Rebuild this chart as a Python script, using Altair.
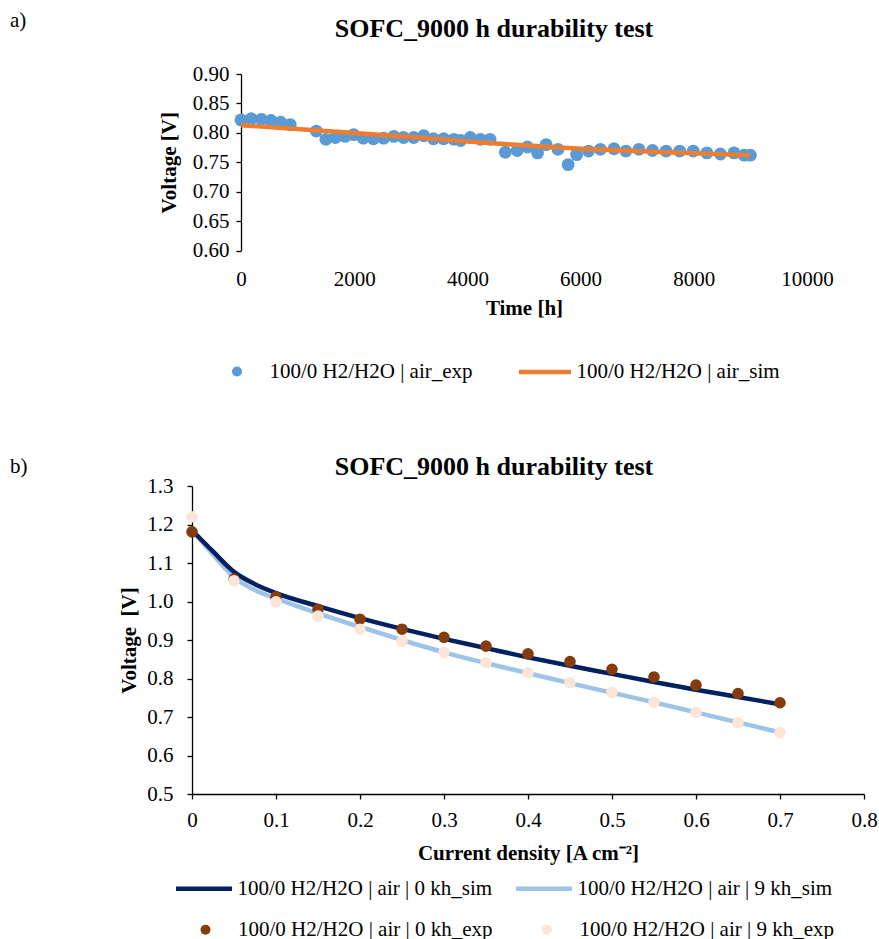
import altair as alt
import pandas as pd

FONT = "Liberation Serif"

# ---------------- a) durability test ----------------
time_exp = [0, 180, 360, 530, 700, 870, 1330, 1500, 1670, 1840, 1990, 2160, 2340, 2520,
            2700, 2870, 3050, 3230, 3400, 3580, 3760, 3880, 4050, 4230, 4400, 4670, 4880,
            5060, 5240, 5390, 5600, 5780, 5930, 6140, 6350, 6590, 6800, 7030, 7270, 7510,
            7750, 7990, 8230, 8470, 8710, 8890, 9000]
volt_exp = [0.822, 0.824, 0.823, 0.821, 0.818, 0.814, 0.803, 0.789, 0.792, 0.794, 0.797,
            0.791, 0.790, 0.791, 0.794, 0.792, 0.792, 0.795, 0.790, 0.790, 0.789, 0.787,
            0.792, 0.789, 0.789, 0.767, 0.770, 0.776, 0.766, 0.780, 0.772, 0.746, 0.763,
            0.769, 0.772, 0.773, 0.769, 0.772, 0.770, 0.769, 0.769, 0.769, 0.766, 0.764,
            0.766, 0.762, 0.762]
time_sim = [0, 1500, 3000, 4500, 6000, 7500, 9000]
volt_sim = [0.813, 0.803, 0.793, 0.782, 0.773, 0.767, 0.762]

# ---------------- b) polarisation curves ----------------
cd_exp = [0, 0.05, 0.1, 0.15, 0.2, 0.25, 0.3, 0.35, 0.4, 0.45, 0.5, 0.55, 0.6, 0.65, 0.7]
v0_exp = [1.181, 1.058, 1.012, 0.980, 0.954, 0.928, 0.907, 0.884, 0.864, 0.844, 0.824,
          0.804, 0.783, 0.761, 0.737]
v9_exp = [1.220, 1.054, 0.999, 0.962, 0.928, 0.897, 0.868, 0.841, 0.815, 0.789, 0.764,
          0.738, 0.712, 0.685, 0.660]
cd_sim = [0, 0.025, 0.05, 0.075, 0.1, 0.15, 0.2, 0.25, 0.3, 0.35, 0.4, 0.45, 0.5, 0.55,
          0.6, 0.65, 0.7]
v0_sim = [1.185, 1.130, 1.077, 1.045, 1.022, 0.988, 0.957, 0.929, 0.903, 0.879, 0.855,
          0.833, 0.812, 0.791, 0.771, 0.752, 0.733]
v9_sim = [1.185, 1.122, 1.063, 1.030, 1.008, 0.969, 0.934, 0.900, 0.868, 0.840, 0.814,
          0.788, 0.763, 0.738, 0.712, 0.686, 0.660]

TITLE = "SOFC_9000 h durability test"
A_EXP = "100/0 H2/H2O | air_exp"
A_SIM = "100/0 H2/H2O | air_sim"
S0 = "100/0 H2/H2O | air | 0 kh_sim"
S9 = "100/0 H2/H2O | air | 9 kh_sim"
E0 = "100/0 H2/H2O | air | 0 kh_exp"
E9 = "100/0 H2/H2O | air | 9 kh_exp"

df_a_exp = pd.DataFrame({"t": time_exp, "v": volt_exp, "s": A_EXP})
df_a_sim = pd.DataFrame({"t": time_sim, "v": volt_sim, "s": A_SIM})

# top panel: plot area starts 49 px right of the shared left edge
xa = alt.X("t:Q", scale=alt.Scale(domain=[0, 10000], nice=False, range=[49, 615]),
           axis=alt.Axis(values=[0, 2000, 4000, 6000, 8000, 10000], format="d",
                         title="Time [h]", domain=False, ticks=False, tickSize=0,
                         labelPadding=17.5, titlePadding=8))
ya = alt.Y("v:Q", scale=alt.Scale(domain=[0.6, 0.9], nice=False, zero=False),
           axis=alt.Axis(values=[0.6, 0.65, 0.7, 0.75, 0.8, 0.85, 0.9], format=".2f",
                         title="Voltage [V]", tickSize=5, labelPadding=7, titlePadding=13,
                         offset=-49))

pts_a = alt.Chart(df_a_exp).mark_point(filled=True, size=165, opacity=1).encode(
    x=xa, y=ya,
    color=alt.Color("s:N", scale=alt.Scale(domain=[A_EXP], range=["#5B9BD5"]),
                    legend=alt.Legend(title=None, orient="none", legendX=34.5, legendY=287,
                                      symbolSize=100, labelOffset=22, symbolOpacity=1)))
line_a = alt.Chart(df_a_sim).mark_line(strokeWidth=4.5).encode(
    x=xa, y=ya,
    stroke=alt.Stroke("s:N", scale=alt.Scale(domain=[A_SIM], range=["#ED7D31"]),
                      legend=alt.Legend(title=None, orient="none", legendX=324.5, legendY=269.5,
                                        symbolType="stroke", symbolSize=2704,
                                        symbolStrokeWidth=4.5, labelOffset=3)))
lab_a = alt.Chart(pd.DataFrame({"l": ["a)"]})).mark_text(
    font=FONT, fontSize=21, align="left", baseline="middle", color="black").encode(
    x=alt.value(-182), y=alt.value(-53.5), text="l:N")
ttl_a = alt.Chart(pd.DataFrame({"l": [TITLE]})).mark_text(
    font=FONT, fontSize=26, fontWeight="bold", align="center", baseline="middle",
    color="black").encode(x=alt.value(302), y=alt.value(-45.5), text="l:N")

top = alt.layer(pts_a, line_a, lab_a, ttl_a).properties(width=615, height=176.5)

# ---------------- bottom ----------------
df_b_sim = pd.concat([
    pd.DataFrame({"c": cd_sim, "v": v9_sim, "s": S9}),
    pd.DataFrame({"c": cd_sim, "v": v0_sim, "s": S0}),
])
df_b_exp = pd.concat([
    pd.DataFrame({"c": cd_exp, "v": v0_exp, "s": E0}),
    pd.DataFrame({"c": cd_exp, "v": v9_exp, "s": E9}),
])

xb = alt.X("c:Q", scale=alt.Scale(domain=[0, 0.8], nice=False),
           axis=alt.Axis(values=[0, 0.1, 0.2, 0.3, 0.4, 0.5, 0.6, 0.7, 0.8], format="~g",
                         title="Current density [A cm\u207b\u00b2]", tickSize=5,
                         labelPadding=10, titlePadding=12))
yb = alt.Y("v:Q", scale=alt.Scale(domain=[0.5, 1.3], nice=False, zero=False),
           axis=alt.Axis(values=[0.5, 0.6, 0.7, 0.8, 0.9, 1.0, 1.1, 1.2, 1.3], format=".1f",
                         title="Voltage \u00a0[V]", tickSize=5, labelPadding=14, titlePadding=7))

lines_b = alt.Chart(df_b_sim).mark_line(strokeWidth=4.5, interpolate="monotone").encode(
    x=xb, y=yb,
    stroke=alt.Stroke("s:N", scale=alt.Scale(domain=[S0, S9], range=["#002060", "#9DC3E6"]),
                      sort=[S9, S0],
                      legend=alt.Legend(title=None, orient="none", legendX=-18.5, legendY=372,
                                        direction="horizontal", columns=2, columnPadding=14,
                                        symbolType="stroke", symbolSize=3136,
                                        symbolStrokeWidth=4.5, labelOffset=3,
                                        values=[S0, S9])),
    detail="s:N")
pts_b = alt.Chart(df_b_exp).mark_point(filled=True, size=135, opacity=1).encode(
    x=xb, y=yb,
    color=alt.Color("s:N", scale=alt.Scale(domain=[E0, E9], range=["#843C0C", "#FBE5D6"]),
                    legend=alt.Legend(title=None, orient="none", legendX=3, legendY=433,
                                      direction="horizontal", columns=2, columnPadding=43.5,
                                      symbolSize=100, labelOffset=22, symbolOpacity=1)))
lab_b = alt.Chart(pd.DataFrame({"l": ["b)"]})).mark_text(
    font=FONT, fontSize=21, align="left", baseline="middle", color="black").encode(
    x=alt.value(-182), y=alt.value(-19), text="l:N")
ttl_b = alt.Chart(pd.DataFrame({"l": [TITLE]})).mark_text(
    font=FONT, fontSize=26, fontWeight="bold", align="center", baseline="middle",
    color="black").encode(x=alt.value(302), y=alt.value(-19), text="l:N")

bottom = alt.layer(lines_b, pts_b, lab_b, ttl_b).properties(width=672, height=308)

chart = alt.vconcat(top, bottom, spacing=71).resolve_scale(
    x="independent", y="independent", color="independent", stroke="independent"
).resolve_legend(color="independent", stroke="independent").properties(
    padding={"left": 10, "top": 9, "right": 0, "bottom": 0}
).configure_view(stroke=None).configure_axis(
    labelFont=FONT, labelFontSize=21, labelColor="black",
    titleFont=FONT, titleFontSize=21, titleFontWeight="bold", titleColor="black",
    domainColor="black", tickColor="black", domainWidth=1.3, tickWidth=1.3,
    grid=False, labelFlush=False, labelOverlap=False
).configure_legend(
    labelFont=FONT, labelFontSize=21, labelFontWeight="normal", labelColor="black",
    padding=0, labelLimit=0
)

chart.save("out.html", embed_options={"renderer": "svg", "actions": False})
